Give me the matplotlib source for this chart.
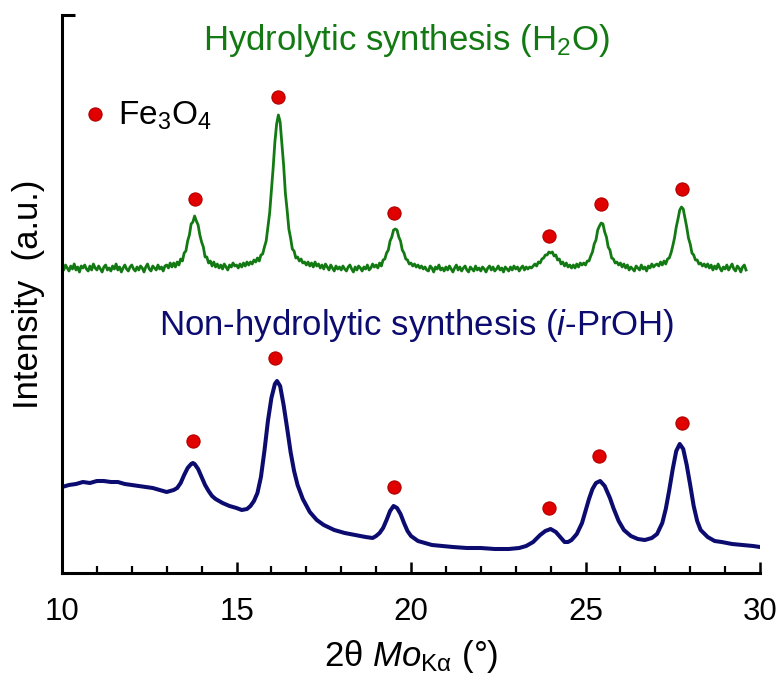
import numpy as np
import matplotlib
matplotlib.use("Agg")
import matplotlib.pyplot as plt

plt.rcParams['font.family'] = ['Liberation Sans', 'DejaVu Sans']
plt.rcParams['mathtext.fontset'] = 'custom'
plt.rcParams['mathtext.rm'] = 'Liberation Sans'
plt.rcParams['mathtext.it'] = 'Liberation Sans:italic'

# ---- data (intensity in arbitrary units) ----
# hydrolytic (H2O) pattern, sampled every 0.05 deg from 10.00 to 29.60
green_x = np.arange(1000, 2961, 5) / 100
green_y = [
    306, 303, 308, 305, 302, 307, 304, 309, 303, 306, 301, 307, 305, 308, 304, 302, 307, 303, 309, 305,  # 10
    303, 307, 304, 301, 306, 308, 303, 305, 302, 307, 304, 309, 303, 306, 301, 305, 308, 304, 302, 306,  # 11
    308, 304, 302, 306, 303, 307, 305, 301, 306, 309, 304, 302, 307, 305, 303, 308, 304, 306, 302, 307,  # 12
    308, 305, 310, 306, 310, 306, 311, 308, 314, 312, 320, 322, 332, 338, 349, 351, 357, 352, 348, 338,  # 13
    331, 326, 316, 316, 310, 312, 307, 311, 306, 309, 305, 308, 304, 309, 306, 303, 308, 306, 310, 307,  # 14
    308, 305, 309, 306, 310, 307, 311, 308, 311, 309, 313, 311, 315, 312, 318, 319, 326, 332, 346, 360,  # 15
    383, 405, 431, 449, 458, 451, 429, 408, 380, 363, 344, 335, 324, 322, 315, 316, 312, 314, 310, 311,  # 16
    308, 311, 307, 310, 306, 311, 307, 309, 305, 308, 304, 309, 306, 303, 308, 305, 302, 307, 304, 306,  # 17
    303, 307, 304, 302, 306, 308, 304, 301, 306, 303, 307, 305, 302, 306, 304, 308, 303, 305, 309, 306,  # 18
    308, 305, 310, 307, 313, 314, 320, 323, 332, 336, 343, 344, 343, 336, 332, 323, 320, 314, 313, 309,  # 19
    310, 307, 309, 306, 308, 305, 307, 304, 306, 303, 302, 307, 305, 301, 306, 304, 308, 303, 305, 302,  # 20
    306, 303, 307, 304, 301, 305, 308, 303, 306, 302, 305, 307, 303, 301, 306, 304, 302, 307, 303, 305,  # 21
    302, 306, 304, 301, 305, 307, 303, 306, 302, 304, 307, 303, 305, 301, 306, 304, 302, 306, 303, 307,  # 22
    304, 306, 302, 305, 307, 303, 306, 304, 306, 305, 307, 309, 307, 311, 310, 314, 315, 318, 318, 321,  # 23
    320, 321, 317, 318, 313, 314, 309, 311, 307, 310, 306, 308, 305, 308, 305, 309, 306, 310, 308, 310,  # 24
    308, 312, 312, 317, 321, 329, 333, 343, 347, 350, 349, 341, 336, 326, 323, 315, 314, 310, 311, 308,  # 25
    310, 306, 309, 305, 308, 303, 306, 304, 302, 307, 305, 303, 308, 304, 306, 302, 307, 305, 309, 306,  # 26
    308, 309, 307, 311, 308, 312, 309, 314, 315, 320, 327, 335, 346, 354, 363, 366, 364, 355, 346, 335,  # 27
    329, 320, 318, 313, 313, 309, 310, 307, 309, 306, 309, 305, 308, 303, 307, 304, 309, 305, 302, 306,  # 28
    304, 308, 303, 306, 309, 304, 302, 307, 305, 301, 306, 308, 303,                                    # 29
]

# non-hydrolytic (i-PrOH) pattern
navy_x = [10.0, 10.2, 10.4, 10.6, 10.8, 11.0, 11.2, 11.4, 11.6, 11.8, 12.0, 12.2,
          12.4, 12.6, 12.8, 13.0, 13.1, 13.2, 13.3, 13.4, 13.5, 13.6, 13.7, 13.75,
          13.8, 13.9, 14.0, 14.1, 14.2, 14.3, 14.4, 14.6, 14.8, 15.0, 15.15, 15.3,
          15.4, 15.5, 15.6, 15.7, 15.8, 15.9, 16.0, 16.1, 16.16, 16.25, 16.35,
          16.45, 16.55, 16.65, 16.75, 16.9, 17.1, 17.3, 17.5, 17.8, 18.1, 18.4,
          18.7, 18.9, 19.0, 19.1, 19.2, 19.3, 19.4, 19.5, 19.6, 19.7, 19.8, 19.9,
          20.0, 20.2, 20.4, 20.6, 20.9, 21.2, 21.6, 22.0, 22.4, 22.8, 23.1, 23.3,
          23.5, 23.7, 23.85, 24.0, 24.15, 24.3, 24.4, 24.5, 24.6, 24.75, 24.9,
          25.0, 25.1, 25.2, 25.3, 25.42, 25.55, 25.7, 25.8, 25.95, 26.1, 26.3,
          26.5, 26.7, 26.9, 27.05, 27.2, 27.3, 27.4, 27.5, 27.6, 27.7, 27.8, 27.9,
          28.0, 28.1, 28.2, 28.3, 28.5, 28.7, 28.9, 29.2, 29.5, 29.8, 30.0]
navy_y = [86, 88, 89, 91, 90, 92, 92, 91, 91, 89, 88, 87,
          86, 85, 83, 81, 82, 83, 85, 90, 98, 105, 109, 110,
          109, 104, 96, 88, 82, 77, 74, 70, 67, 65, 63, 64,
          67, 72, 80, 96, 122, 152, 175, 189, 192, 187, 168,
          145, 121, 102, 88, 74, 61, 53, 48, 43, 40, 38,
          36, 35, 37, 40, 45, 53, 62, 67, 65, 59, 50, 42,
          37, 32, 30, 28, 27, 26, 25, 25, 24, 24, 25, 27,
          31, 38, 42, 44, 41, 35, 31, 31, 33, 39, 50,
          62, 74, 84, 90, 92, 87, 75, 65, 52, 43, 37,
          34, 33, 35, 39, 50, 64, 83, 104, 122, 129, 124, 108,
          88, 67, 52, 43, 36, 32, 31, 29, 28, 27, 26]

# Fe3O4 reflection markers
green_dot_x = [13.8, 16.2, 19.5, 23.95, 25.45, 27.77]
green_dot_y = [374, 476, 360, 337, 369, 384]
navy_dot_x = [13.75, 16.1, 19.5, 23.95, 25.4, 27.77]
navy_dot_y = [132, 215, 86, 65, 117, 150]

green = '#137a13'
navy = '#0c0c70'
red = '#e00000'

fig = plt.figure(figsize=(7.8, 6.84), dpi=100)
ax = fig.add_axes([62 / 780, 1 - 573 / 684, 698 / 780, 558 / 684])

ax.plot(green_x, green_y, color=green, lw=2.0)
ax.plot(navy_x, navy_y, color=navy, lw=2.9)

dot_kw = dict(ls='none', marker='o', ms=9.5, mfc=red, mec='#b00000', mew=0.8, zorder=5)
ax.plot(green_dot_x, green_dot_y, **dot_kw)
ax.plot(navy_dot_x, navy_dot_y, **dot_kw)

# legend-like label
ax.plot([10.95], [459], **dot_kw)
ax.text(11.6, 448, 'Fe$_3$O$_4$', fontsize=24, va='baseline', ha='left')

ax.text(19.86, 523, 'Hydrolytic synthesis (H$_2$O)', fontsize=25, color=green,
        ha='center', va='baseline')
ax.text(20.16, 238, 'Non-hydrolytic synthesis ($i$-PrOH)', fontsize=25, color=navy,
        ha='center', va='baseline')

ax.set_xlim(10, 30)
ax.set_ylim(0, 558)
ax.spines['top'].set_visible(False)
ax.spines['right'].set_visible(False)
ax.spines['left'].set_linewidth(2.2)
ax.spines['bottom'].set_linewidth(2.2)

ax.set_xticks([10, 15, 20, 25, 30])
ax.set_xticks(np.arange(10, 31), minor=True)
ax.tick_params(axis='x', which='major', direction='in', length=8, width=1.8,
               labelsize=22.5, pad=17)
ax.tick_params(axis='x', which='minor', direction='in', length=5, width=1.6)
ax.set_yticks([558])
ax.tick_params(axis='y', direction='in', length=9, width=2.2, labelleft=False)

ax.set_xlabel(r'2θ $\mathit{Mo}_{\mathrm{K\alpha}}$ (°)', fontsize=25, labelpad=8)
ax.set_ylabel('Intensity  (a.u.)', fontsize=25, labelpad=12)

fig.savefig('out.png', dpi=100)
